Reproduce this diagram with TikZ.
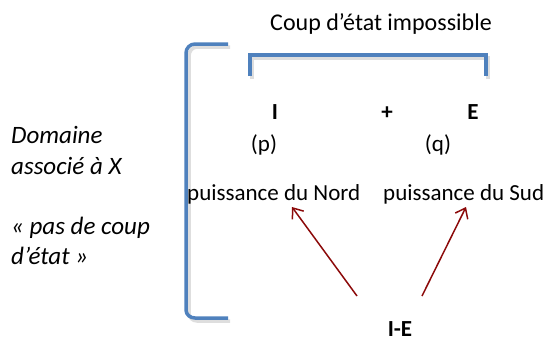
\documentclass[tikz,border=0pt]{standalone}
\usepackage{fontspec}
\setmainfont{Carlito}
\usetikzlibrary{arrows.meta}
\definecolor{brblue}{RGB}{79,129,189}
\definecolor{arred}{RGB}{140,10,10}
\definecolor{shad}{RGB}{200,200,200}
\tikzset{
  brk/.style={draw=brblue, line width=3.5pt},
  brkshadow/.style={draw=shad, line width=3.5pt, opacity=0.6},
  arr/.style={draw=arred, line width=1.5pt, -{Straight Barb[length=9pt,width=14pt]}},
  txt/.style={font=\fontsize{23}{27}\selectfont, inner sep=0pt, anchor=base},
  btxt/.style={font=\fontsize{23}{27}\selectfont\bfseries, inner sep=0pt, anchor=base},
  side/.style={font=\fontsize{25}{29}\selectfont\itshape, inner sep=0pt, anchor=base west},
}
\begin{document}
\begin{tikzpicture}[x=1pt,y=-1pt]
\useasboundingbox (0,0) rectangle (544,341);
% shadows
\draw[brkshadow] (230,47) -- (197,47) to[out=180,in=90] (189,56) -- (189,313) to[out=-90,in=180] (197,321) -- (230,321);
\draw[brkshadow] (252,79) -- (252,58) -- (488,58) -- (488,79);
% big bracket
\draw[brk] (228,44) -- (195,44) to[out=180,in=90] (186,53) -- (186,310) to[out=-90,in=180] (195,318) -- (228,318);
% small bracket
\draw[brk] (250,76) -- (250,55) -- (486,55) -- (486,76);
% texts
\node[txt, font=\fontsize{24}{28}\selectfont] (title) at (381,30) {Coup d’état impossible};
\node[btxt] (I) at (275,119) {I};
\node[btxt] (plus) at (387,119) {+};
\node[btxt] (E) at (473,119) {E};
\node[txt] (p) at (264,151) {(p)};
\node[txt] (q) at (438,151) {(q)};
\node[txt, anchor=base west] (nord) at (187,200) {puissance du Nord};
\node[txt, anchor=base west] (sud) at (383,200) {puissance du Sud};
\node[btxt] (IE) at (400,336) {I-E};
\node[side] (d1) at (11,143) {Domaine};
\node[side] (d2) at (11,174) {associé à X};
\node[side] (d3) at (11,234) {« pas de coup};
\node[side] (d4) at (11,264) {d’état »};
% arrows
\coordinate (t1) at (357,296);
\coordinate (h1) at (292,207);
\coordinate (t2) at (422,296);
\coordinate (h2) at (466,207);
\draw[arr] (t1) -- (h1);
\draw[arr] (t2) -- (h2);
\end{tikzpicture}
\end{document}
